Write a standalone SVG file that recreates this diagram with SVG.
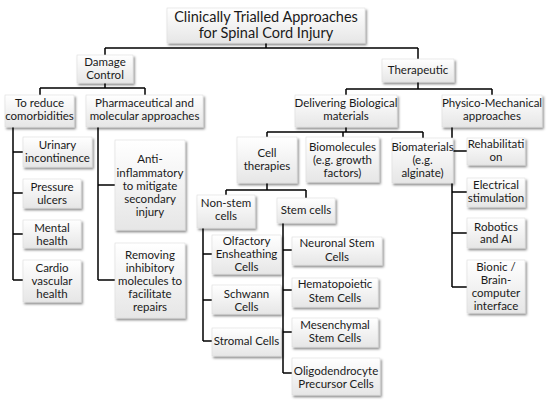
<svg xmlns="http://www.w3.org/2000/svg" width="550" height="401" viewBox="0 0 550 401">
<defs>
<linearGradient id="g" x1="0" y1="0" x2="0" y2="1">
<stop offset="0" stop-color="#ffffff"/>
<stop offset="1" stop-color="#e6e6e6"/>
</linearGradient>
<filter id="sh" x="-20%" y="-20%" width="140%" height="150%">
<feDropShadow dx="1.5" dy="2" stdDeviation="1.2" flood-color="#000" flood-opacity="0.45"/>
</filter>
<style>
.b{fill:url(#g);stroke:#dcdcdc;stroke-width:0.6;filter:url(#sh)}
text{font-family:Lato,"Open Sans","Liberation Sans",sans-serif;font-size:11.5px;fill:#1a1a1a;text-anchor:middle}
.t{font-size:14.5px}
.c{fill:none;stroke:#000;stroke-width:1.5}
</style>
</defs>
<rect width="550" height="401" fill="#fff"/>
<g id="connectors" class="c">
<path d="M266,43V48M105,48H418M105,48V55M418,48V59"/>
<path d="M105,83V88M40,88H145M40,88V95M145,88V95"/>
<path d="M418,82V89M346,89H492M346,89V95M492,89V95"/>
<path d="M13,127V280M13,152H23M13,193H23M13,234H23M13,280H23"/>
<path d="M98,127V280M98,185H115M98,280H115"/>
<path d="M346,127V132M267,132H423M267,132V137M343,132V137M423,132V138"/>
<path d="M452,127V287M452,151H467M452,192H467M452,233H467M452,287H467"/>
<path d="M267,183V190M226,190H306M226,190V195M306,190V198"/>
<path d="M203,228V341M203,254H212M203,300H212M203,341H212"/>
<path d="M283,223V373M283,250H292M283,290H292M283,332H292M283,373H292"/>
</g>
<g id="title"><rect class="b" x="167" y="8" width="198" height="35"/><text class="t" x="266" y="22">Clinically Trialled Approaches</text><text class="t" x="266" y="38">for Spinal Cord Injury</text></g>
<g id="damage"><rect class="b" x="77" y="55" width="56" height="28"/><text x="105" y="66">Damage</text><text x="105" y="79">Control</text></g>
<g id="therapeutic"><rect class="b" x="382" y="59" width="72" height="23"/><text x="418" y="74">Therapeutic</text></g>
<g id="reduce"><rect class="b" x="5" y="95" width="69" height="32"/><text x="39.5" y="107">To reduce</text><text x="39.5" y="120">comorbidities</text></g>
<g id="pharma"><rect class="b" x="86" y="95" width="117" height="32"/><text x="144.5" y="107">Pharmaceutical and</text><text x="144.5" y="120">molecular approaches</text></g>
<g id="delivering"><rect class="b" x="295" y="95" width="102" height="32"/><text x="346" y="107">Delivering Biological</text><text x="346" y="120">materials</text></g>
<g id="physico"><rect class="b" x="442" y="95" width="100" height="32"/><text x="492" y="107">Physico-Mechanical</text><text x="492" y="120">approaches</text></g>
<g id="urinary"><rect class="b" x="23" y="137" width="69" height="30"/><text x="57.5" y="149">Urinary</text><text x="57.5" y="162">incontinence</text></g>
<g id="pressure"><rect class="b" x="23" y="179" width="58" height="29"/><text x="52" y="191">Pressure</text><text x="52" y="204">ulcers</text></g>
<g id="mental"><rect class="b" x="23" y="220" width="58" height="28"/><text x="52" y="232">Mental</text><text x="52" y="245">health</text></g>
<g id="cardio"><rect class="b" x="23" y="260" width="58" height="42"/><text x="52" y="272">Cardio</text><text x="52" y="285">vascular</text><text x="52" y="298">health</text></g>
<g id="anti"><rect class="b" x="115" y="140" width="70" height="90"/><text x="150" y="163">Anti-</text><text x="150" y="177">inflammatory</text><text x="150" y="190">to mitigate</text><text x="150" y="203">secondary</text><text x="150" y="216">injury</text></g>
<g id="removing"><rect class="b" x="115" y="243" width="70" height="75"/><text x="150" y="259">Removing</text><text x="150" y="272">inhibitory</text><text x="150" y="285">molecules to</text><text x="150" y="298">facilitate</text><text x="150" y="311">repairs</text></g>
<g id="cell"><rect class="b" x="237" y="137" width="60" height="46"/><text x="267" y="157">Cell</text><text x="267" y="170">therapies</text></g>
<g id="biomolecules"><rect class="b" x="306" y="137" width="73" height="45"/><text x="342.5" y="151">Biomolecules</text><text x="342.5" y="164">(e.g. growth</text><text x="342.5" y="177">factors)</text></g>
<g id="biomaterials"><rect class="b" x="392" y="138" width="61" height="45"/><text x="422.5" y="151">Biomaterials</text><text x="422.5" y="164">(e.g.</text><text x="422.5" y="177">alginate)</text></g>
<g id="rehab"><rect class="b" x="467" y="138" width="58" height="27"/><text x="496" y="148">Rehabilitati</text><text x="496" y="161">on</text></g>
<g id="electrical"><rect class="b" x="467" y="178" width="58" height="29"/><text x="496" y="189">Electrical</text><text x="496" y="202">stimulation</text></g>
<g id="robotics"><rect class="b" x="467" y="218" width="58" height="30"/><text x="496" y="231">Robotics</text><text x="496" y="243">and AI</text></g>
<g id="bionic"><rect class="b" x="467" y="260" width="58" height="53"/><text x="496" y="271">Bionic /</text><text x="496" y="284">Brain-</text><text x="496" y="297">computer</text><text x="496" y="310">interface</text></g>
<g id="nonstem"><rect class="b" x="197" y="195" width="58" height="33"/><text x="226" y="207">Non-stem</text><text x="226" y="220">cells</text></g>
<g id="stem"><rect class="b" x="277" y="198" width="58" height="25"/><text x="306" y="214">Stem cells</text></g>
<g id="olfactory"><rect class="b" x="212" y="235" width="69" height="39"/><text x="246.5" y="245">Olfactory</text><text x="246.5" y="258">Ensheathing</text><text x="246.5" y="271">Cells</text></g>
<g id="schwann"><rect class="b" x="212" y="285" width="69" height="29"/><text x="246.5" y="298">Schwann</text><text x="246.5" y="311">Cells</text></g>
<g id="stromal"><rect class="b" x="212" y="328" width="69" height="28"/><text x="246.5" y="345">Stromal Cells</text></g>
<g id="neuronal"><rect class="b" x="292" y="237" width="90" height="28"/><text x="337" y="247">Neuronal Stem</text><text x="337" y="261">Cells</text></g>
<g id="hemato"><rect class="b" x="292" y="278" width="86" height="29"/><text x="335" y="288">Hematopoietic</text><text x="335" y="302">Stem Cells</text></g>
<g id="mesench"><rect class="b" x="292" y="318" width="86" height="29"/><text x="335" y="329">Mesenchymal</text><text x="335" y="342">Stem Cells</text></g>
<g id="oligo"><rect class="b" x="292" y="358" width="88" height="37"/><text x="336" y="375">Oligodendrocyte</text><text x="336" y="388">Precursor Cells</text></g>
</svg>
